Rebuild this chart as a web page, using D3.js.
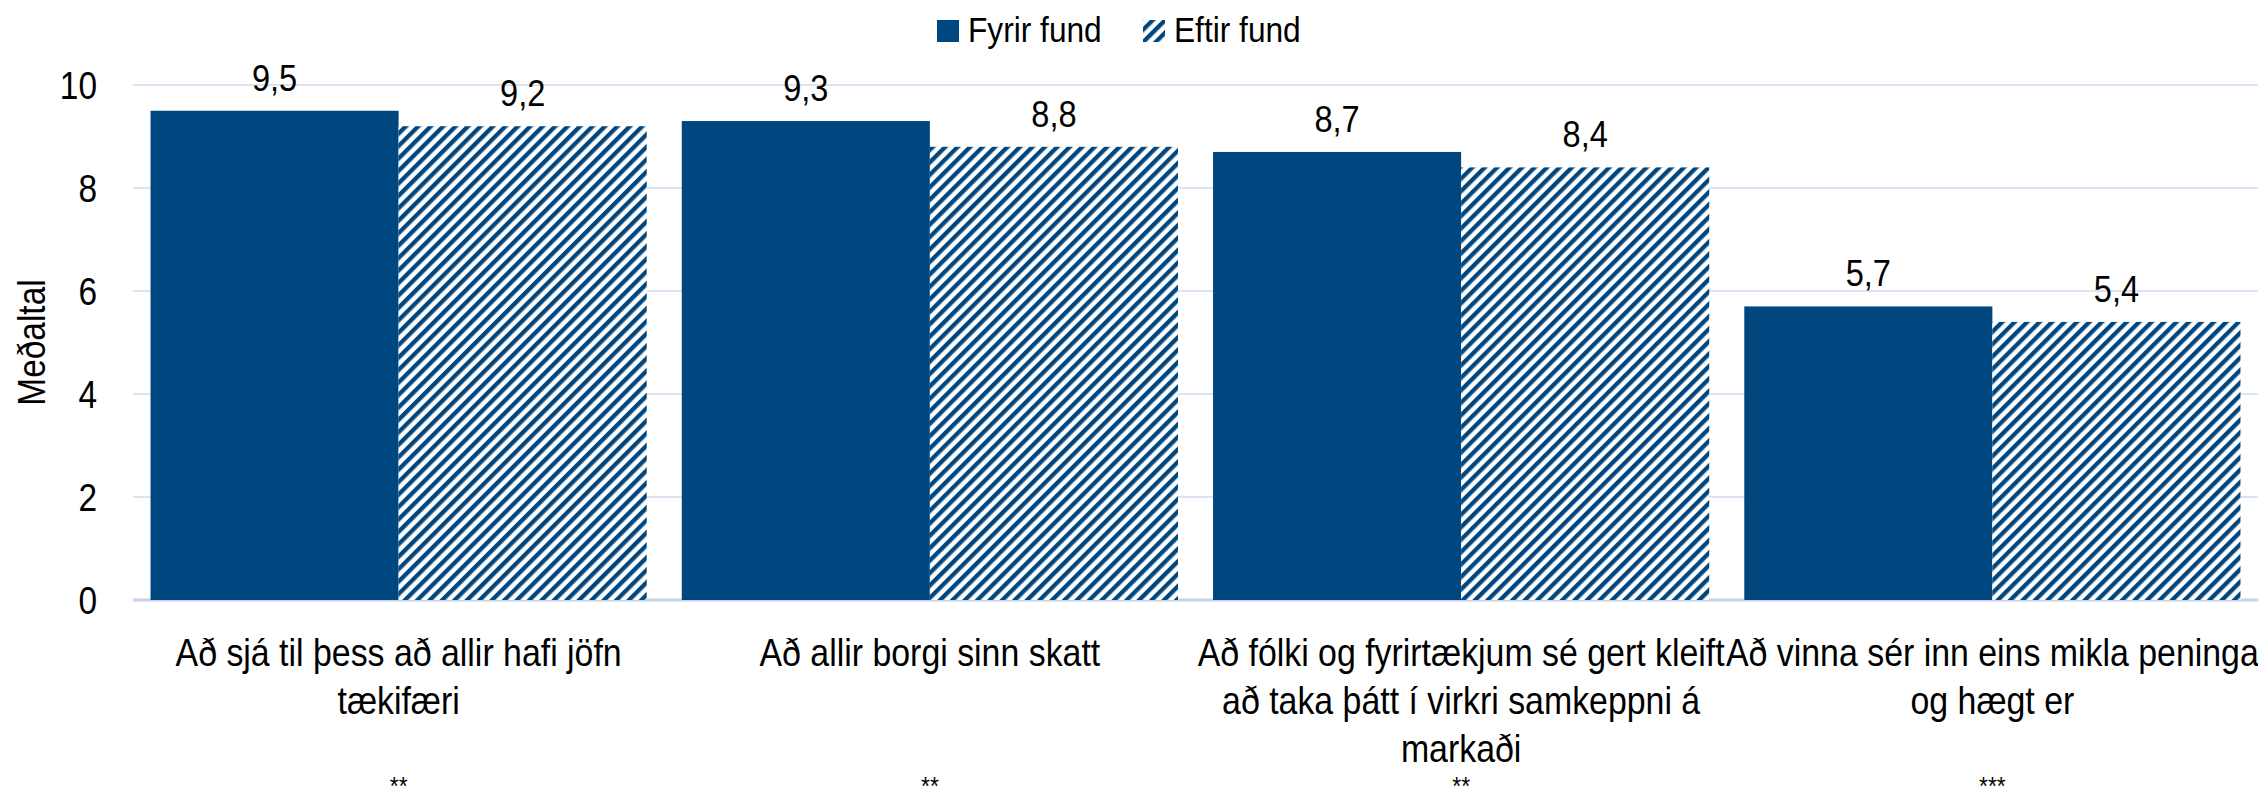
<!DOCTYPE html>
<html>
<head>
	<meta charset="utf-8" />
	<script src="https://cdn.jsdelivr.net/npm/d3@7"></script>
	<style>
		body { margin: 0; background: #fff; }
		text { font-family: "Liberation Sans", Arial, sans-serif; fill: #000; }
	</style>
</head>
<body>
	<div id="my_dataviz"></div>
	<script>

		// categories (one entry per line of the label)
		var categories = [
			["Að sjá til þess að allir hafi jöfn", "tækifæri"],
			["Að allir borgi sinn skatt"],
			["Að fólki og fyrirtækjum sé gert kleift", "að taka þátt í virkri samkeppni á", "markaði"],
			["Að vinna sér inn eins mikla peninga", "og hægt er"]
		];
		var significance = ["**", "**", "**", "***"];

		var seriesNames = ["Fyrir fund", "Eftir fund"];
		var fyrirFund = [9.5, 9.3, 8.7, 5.7];
		var eftirFund = [9.2, 8.8, 8.4, 5.4];

		var yTicks = [0, 2, 4, 6, 8, 10];
		var yTitle = "Meðaltal";

		var blue = "#00467f";
		// the original font is a bit narrow, so squeeze text horizontally
		var sx = 0.88;

		// set the dimensions and margins of the graph
		var W = 2258, H = 801;
		var margin = { top: 85, right: 0, bottom: 201, left: 133 },
			width = W - margin.left - margin.right,
			height = H - margin.top - margin.bottom;

		var svg = d3.select("#my_dataviz")
			.append("svg")
			.attr("width", W)
			.attr("height", H);

		// hatch pattern for "Eftir fund"
		var pattern = svg.append("defs")
			.append("pattern")
			.attr("id", "hatch")
			.attr("patternUnits", "userSpaceOnUse")
			.attr("width", 8.8)
			.attr("height", 8.8)
			.attr("patternTransform", "rotate(45)");
		pattern.append("rect")
			.attr("width", 8.8).attr("height", 8.8)
			.attr("fill", "#fff");
		pattern.append("rect")
			.attr("width", 4.3).attr("height", 8.8)
			.attr("fill", blue);

		var g = svg.append("g")
			.attr("transform", "translate(" + margin.left + "," + margin.top + ")");

		var locale = d3.formatLocale({ decimal: ",", thousands: ".", grouping: [3], currency: ["", ""] });
		var fmt = locale.format(".1f");

		// place a text at (x, y) and squeeze it
		function place(x, y) {
			return "translate(" + x + "," + y + ") scale(" + sx + ",1)";
		}

		// scales
		var x0 = d3.scaleBand()
			.domain(d3.range(categories.length))
			.range([0, width])
			.paddingInner(0.066)
			.paddingOuter(0.033);

		var x1 = d3.scaleBand()
			.domain([0, 1])
			.range([0, x0.bandwidth()]);

		var y = d3.scaleLinear()
			.domain([0, 10])
			.range([height, 0]);

		// gridlines
		g.append("g")
			.selectAll("line")
			.data(yTicks)
			.enter()
			.append("line")
			.attr("x1", 0)
			.attr("x2", width)
			.attr("y1", function (d) { return y(d); })
			.attr("y2", function (d) { return y(d); })
			.style("stroke", function (d) { return d === 0 ? "#c5d3ec" : "#dce4f3"; })
			.style("stroke-width", function (d) { return d === 0 ? 3 : 2; });

		// y axis labels
		var yAxis = g.append("g")
			.call(d3.axisLeft(y).tickValues(yTicks).tickSize(0).tickPadding(0).tickFormat(d3.format("d")));
		yAxis.select(".domain").remove();
		yAxis.selectAll("text")
			.attr("x", null)
			.attr("dy", "0.35em")
			.attr("transform", place(-36, 0))
			.attr("font-family", null)
			.style("font-size", "38px");

		// y title
		svg.append("text")
			.attr("transform", "translate(45," + (margin.top + height / 2) + ") rotate(-90) scale(" + sx + ",1)")
			.style("text-anchor", "middle")
			.style("font-size", "38px")
			.text(yTitle);

		// bars
		var series = [fyrirFund, eftirFund];
		series.forEach(function (values, s) {
			var grp = g.append("g");
			grp.selectAll("rect")
				.data(values)
				.enter()
				.append("rect")
				.attr("x", function (d, i) { return x0(i) + x1(s); })
				.attr("y", function (d) { return y(d); })
				.attr("width", x1.bandwidth())
				.attr("height", function (d) { return height - y(d); })
				.style("fill", s === 0 ? blue : "url(#hatch)");

			grp.selectAll("text")
				.data(values)
				.enter()
				.append("text")
				.attr("transform", function (d, i) {
					return place(x0(i) + x1(s) + x1.bandwidth() / 2, y(d) - 20);
				})
				.style("text-anchor", "middle")
				.style("font-size", "37px")
				.text(function (d) { return fmt(d); });
		});

		// category labels
		var cat = g.append("g")
			.selectAll("text")
			.data(categories)
			.enter()
			.append("text")
			.attr("transform", function (d, i) { return place(x0(i) + x0.bandwidth() / 2, height + 66); })
			.style("text-anchor", "middle")
			.style("font-size", "38.5px");
		cat.selectAll("tspan")
			.data(function (d) { return d; })
			.enter()
			.append("tspan")
			.attr("x", 0)
			.attr("dy", function (d, i) { return i === 0 ? 0 : 48; })
			.text(function (d) { return d; });

		// significance stars
		g.append("g")
			.selectAll("text")
			.data(significance)
			.enter()
			.append("text")
			.attr("transform", function (d, i) { return place(x0(i) + x0.bandwidth() / 2, height + 195); })
			.style("text-anchor", "middle")
			.style("font-size", "26px")
			.text(function (d) { return d; });

		// legend
		var legend = svg.append("g");
		var lx = [937, 1143];
		seriesNames.forEach(function (name, s) {
			legend.append("rect")
				.attr("x", lx[s])
				.attr("y", 20)
				.attr("width", 22)
				.attr("height", 22)
				.style("fill", s === 0 ? blue : "url(#hatch)");
			legend.append("text")
				.attr("transform", place(lx[s] + 31, 42))
				.style("font-size", "36px")
				.text(name);
		});

	</script>
</body>
</html>
